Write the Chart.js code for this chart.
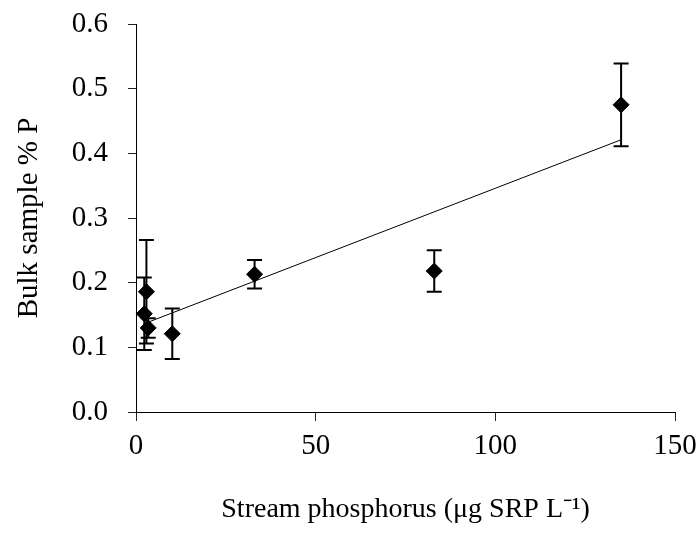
<!DOCTYPE html>
<html>
<head>
<meta charset="utf-8">
<script src="https://cdn.jsdelivr.net/npm/chart.js@4"></script>
<style>
    body { margin: 0; background: #fff; }
    #wrap { width: 699px; height: 535px; position: relative; }
</style>
</head>
<body>
<div id="wrap"><canvas id="pChart"></canvas></div>
<script>
// Stream SRP (x) vs bulk sample %P (y), with +/- error
const streamP = [2.9, 2.3, 3.4, 10.1, 33.0, 83.0, 135.0];
const bulkP = [0.186, 0.152, 0.130, 0.121, 0.213, 0.218, 0.475];
const bulkErr = [0.080, 0.056, 0.015, 0.039, 0.022, 0.032, 0.064];

// regression line end points
const trendX = [2.5, 135.0];
const trendY = [0.137, 0.421];

const xTicks = [0, 50, 100, 150];
const yTicks = [0.0, 0.1, 0.2, 0.3, 0.4, 0.5, 0.6];

const serif = "'Liberation Serif', 'Times New Roman', serif";

// Draw vertical error bars with caps under the diamonds
const errorBars = {
    id: "errorBars",
    beforeDatasetsDraw(chart) {
        const ctx = chart.ctx;
        const xs = chart.scales.x;
        const ys = chart.scales.y;
        ctx.save();
        ctx.strokeStyle = "#000";
        ctx.lineWidth = 2;
        streamP.forEach((xv, i) => {
            const px = xs.getPixelForValue(xv);
            const top = ys.getPixelForValue(bulkP[i] + bulkErr[i]);
            const bot = ys.getPixelForValue(bulkP[i] - bulkErr[i]);
            ctx.beginPath();
            ctx.moveTo(px, top);
            ctx.lineTo(px, bot);
            ctx.moveTo(px - 7.5, top);
            ctx.lineTo(px + 7.5, top);
            ctx.moveTo(px - 7.5, bot);
            ctx.lineTo(px + 7.5, bot);
            ctx.stroke();
        });
        ctx.restore();
    }
};

const ctx = document.getElementById("pChart").getContext("2d");
new Chart(ctx, {
    type: "scatter",
    data: {
        datasets: [
            {
                label: "Bulk % P",
                data: streamP.map((x, i) => ({ x: x, y: bulkP[i] })),
                pointStyle: "rectRot",
                pointRadius: 8,
                pointHoverRadius: 8,
                backgroundColor: "#000",
                borderColor: "#000",
                borderWidth: 1,
                clip: false,
                order: 1
            },
            {
                type: "line",
                label: "Trend",
                data: trendX.map((x, i) => ({ x: x, y: trendY[i] })),
                borderColor: "#000",
                borderWidth: 1,
                pointRadius: 0,
                fill: false,
                order: 2
            }
        ]
    },
    options: {
        responsive: true,
        maintainAspectRatio: false,
        animation: false,
        layout: { padding: { left: 0, right: 24, top: 24, bottom: 0 } },
        plugins: {
            legend: { display: false },
            tooltip: { enabled: false }
        },
        scales: {
            x: {
                type: "linear",
                min: 0,
                max: 150,
                afterBuildTicks: (scale) => { scale.ticks = xTicks.map(v => ({ value: v })); },
                afterFit: (scale) => {
                    scale.height = 123;
                    scale.paddingLeft = 0;
                    scale.paddingRight = 0;
                },
                border: { display: true, color: "#000", width: 1 },
                grid: { drawOnChartArea: false, drawTicks: true, tickLength: 9, color: "#222" },
                ticks: {
                    padding: 8,
                    color: "#000",
                    font: { family: serif, size: 29 },
                    maxRotation: 0
                },
                title: {
                    display: true,
                    text: "Stream phosphorus (\u03bcg SRP L\u207b\u00b9)",
                    color: "#000",
                    font: { family: serif, size: 28 },
                    padding: { top: 0, bottom: 9 }
                }
            },
            y: {
                type: "linear",
                min: 0,
                max: 0.6,
                afterBuildTicks: (scale) => { scale.ticks = yTicks.map(v => ({ value: v })); },
                afterFit: (scale) => {
                    scale.width = 136;
                    scale.paddingTop = 0;
                    scale.paddingBottom = 0;
                },
                border: { display: true, color: "#000", width: 1 },
                grid: { drawOnChartArea: false, drawTicks: true, tickLength: 8, color: "#222" },
                ticks: {
                    padding: 20,
                    color: "#000",
                    font: { family: serif, size: 29 },
                    callback: (v) => Number(v).toFixed(1)
                },
                title: {
                    display: true,
                    text: "Bulk sample % P",
                    color: "#000",
                    font: { family: serif, size: 29 },
                    padding: { top: 12, bottom: 0 }
                }
            }
        }
    },
    plugins: [errorBars]
});
</script>
</body>
</html>
